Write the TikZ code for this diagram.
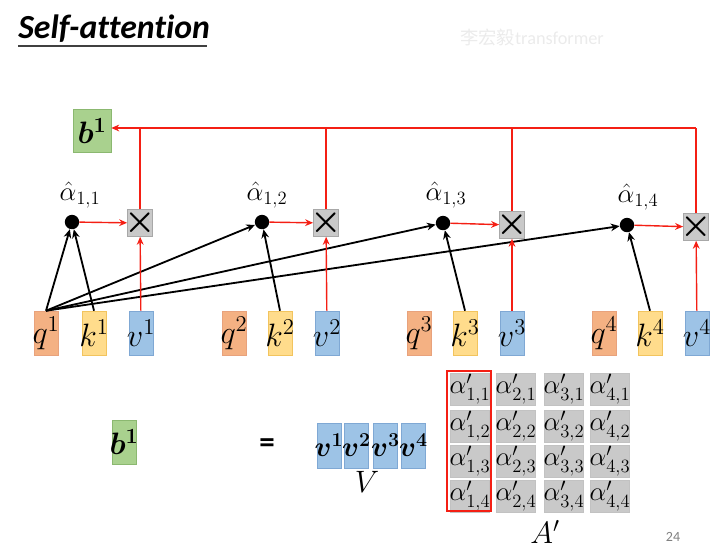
\RequirePackage{fix-cm}
\documentclass[tikz,border=0pt]{standalone}
\usepackage{amsmath}
\usepackage{fontspec}
\setmainfont{Carlito}[Ligatures=NoCommon]
\newfontfamily\cjkfont{Noto Sans CJK SC}
\usetikzlibrary{arrows.meta}
\definecolor{qfill}{HTML}{F4B183}
\definecolor{qline}{HTML}{E8A27C}
\definecolor{kfill}{HTML}{FFDC8C}
\definecolor{kline}{HTML}{F2C45E}
\definecolor{vfill}{HTML}{9DC3E6}
\definecolor{vline}{HTML}{7FA8D4}
\definecolor{bfill}{HTML}{A9D18E}
\definecolor{bline}{HTML}{8BB870}
\definecolor{xfill}{HTML}{C9C9C9}
\definecolor{xline}{HTML}{A8A8A8}
\definecolor{arrred}{HTML}{F41F14}
% text that may run over the edge of its box
\newcommand{\ovr}[1]{\makebox[0pt]{$#1$}}
\tikzset{
  % a query, key or value vector
  vq/.style   = {draw=qline, fill=qfill, minimum width=6.1mm, minimum height=11mm,
                 inner sep=0pt, font=\fontsize{23}{26}\selectfont},
  vk/.style   = {vq, draw=kline, fill=kfill},
  vv/.style   = {vq, draw=vline, fill=vfill},
  % the value vectors side by side
  vcol/.style = {vv, minimum width=5.9mm, minimum height=11.2mm,
                 font=\fontsize{20}{22}\selectfont},
  % the output vector
  bout/.style = {draw=bline, fill=bfill, inner sep=0pt,
                 font=\fontsize{22}{24}\selectfont},
  % the weighting step
  mul/.style  = {draw=xline, fill=xfill, minimum size=6.3mm, inner sep=0pt,
                 font=\fontsize{25}{26}\selectfont},
  % an attention score
  dot/.style  = {circle, fill=black, minimum size=3.6mm, inner sep=0pt},
  lab/.style  = {font=\fontsize{19}{20}\selectfont, inner sep=0pt},
  % a cell of A'
  cell/.style = {draw=xline!70, fill=xfill, minimum width=9.8mm, minimum height=8mm,
                 inner sep=0pt, font=\fontsize{19}{20}\selectfont},
  % connectors
  blk/.style  = {-{Stealth[length=2.2mm,width=1.9mm]}, line width=1.3pt},
  red/.style  = {-{Stealth[length=2mm,width=1.7mm]}, line width=1pt, arrred},
  redl/.style = {line width=1pt, arrred},
}

\begin{document}
\begin{tikzpicture}[x=0.25mm, y=-0.25mm]
  \useasboundingbox (0,0) rectangle (728,550);
  % title
  \node[anchor=base west, inner sep=0pt, font=\fontsize{24}{26}\selectfont\bfseries\itshape]
    (title) at (18,38) {Self-attention};
  \draw[line width=1pt, black!75] (18,46) -- (207,46);
  \node[anchor=base west, inner sep=0pt, text=black!8, font=\fontsize{13}{14}\selectfont]
    (mark) at (460,44) {{\cjkfont 李宏毅}transformer};

  % input vectors
  \node[vq] (q1) at ( 46,333) {\ovr{q^1}};
  \node[vk] (k1) at ( 94,333) {\ovr{k^1}};
  \node[vv] (v1) at (141,333) {\ovr{v^1}};
  \node[vq] (q2) at (234,333) {\ovr{q^2}};
  \node[vk] (k2) at (280,333) {\ovr{k^2}};
  \node[vv] (v2) at (327,333) {\ovr{v^2}};
  \node[vq] (q3) at (419,333) {\ovr{q^3}};
  \node[vk] (k3) at (465,333) {\ovr{k^3}};
  \node[vv] (v3) at (512,333) {\ovr{v^3}};
  \node[vq] (q4) at (604,333) {\ovr{q^4}};
  \node[vk] (k4) at (650,333) {\ovr{k^4}};
  \node[vv] (v4) at (697,333) {\ovr{v^4}};

  % scores
  \node[dot] (a1) at ( 72,222) {};
  \node[dot] (a2) at (262,222) {};
  \node[dot] (a3) at (443,223) {};
  \node[dot] (a4) at (627,225) {};
  \node[lab] (la1) at ( 80,195) {$\hat{\alpha}_{1,1}$};
  \node[lab] (la2) at (267,195) {$\hat{\alpha}_{1,2}$};
  \node[lab] (la3) at (446,195) {$\hat{\alpha}_{1,3}$};
  \node[lab] (la4) at (638,197) {$\hat{\alpha}_{1,4}$};

  % products
  \node[mul] (m1) at (140,223) {\ovr{\boldsymbol{\times}}};
  \node[mul] (m2) at (326,223) {\ovr{\boldsymbol{\times}}};
  \node[mul] (m3) at (512,225) {\ovr{\boldsymbol{\times}}};
  \node[mul] (m4) at (696,227) {\ovr{\boldsymbol{\times}}};

  % output
  \node[bout, minimum width=9.5mm, minimum height=10.8mm] (b1) at (92,131) {$\boldsymbol{b^1}$};
  \coordinate (c4) at (696,128);

  % q1 against every key
  \draw[blk] (q1.north) -- (a1);
  \draw[blk] (q1.north) -- (a2);
  \draw[blk] (q1.north) -- (a3);
  \draw[blk] (q1.north) -- (a4);
  \draw[blk] (k1.north) -- (a1);
  \draw[blk] (k2.north) -- (a2);
  \draw[blk] (k3.north) -- (a3);
  \draw[blk] (k4.north) -- (a4);

  % weighting
  \draw[red] (a1) -- (m1);
  \draw[red] (a2) -- (m2);
  \draw[red] (a3) -- (m3);
  \draw[red] (a4) -- (m4);
  \draw[red] (v1) -- (m1);
  \draw[red] (v2) -- (m2);
  \draw[red] (v3) -- (m3);
  \draw[red] (v4) -- (m4);

  % sum
  \draw[redl] (m4.north) -- (c4);
  \draw[red] (c4) -- (b1.east |- c4);
  \draw[redl] (m1.north) -- (m1.north |- c4);
  \draw[redl] (m2.north) -- (m2.north |- c4);
  \draw[redl] (m3.north) -- (m3.north |- c4);

  % matrix form
  \node[bout, minimum width=6mm, minimum height=11mm] (b1m) at (124,442) {\ovr{\boldsymbol{b^1}}};
  \node[font=\fontsize{22}{22}\selectfont\bfseries] (eq) at (267,446) {=};
  \node[vcol] (V1) at (329.0,445.5) {\ovr{\boldsymbol{v^1}}};
  \node[vcol] (V2) at (356.5,445.5) {\ovr{\boldsymbol{v^2}}};
  \node[vcol] (V3) at (385.5,445.5) {\ovr{\boldsymbol{v^3}}};
  \node[vcol] (V4) at (413.5,445.5) {\ovr{\boldsymbol{v^4}}};
  \node[font=\fontsize{22}{22}\selectfont] (Vlab) at (367,482) {$V$};

  \foreach \c/\x in {1/470,2/516,3/564,4/610}
    \foreach \r/\y in {1/389,2/426,3/461,4/496}
      \node[cell] (A\c\r) at (\x,\y) {\ovr{\alpha'_{\c,\r}}};
  \draw[line width=2pt, arrred] (447,371) rectangle (491,511);
  \node[font=\fontsize{22}{22}\selectfont] (Alab) at (545,532) {$A'$};
  \node[text=black!50, font=\fontsize{10}{10}\selectfont] (page) at (673,537) {24};
\end{tikzpicture}
\end{document}
